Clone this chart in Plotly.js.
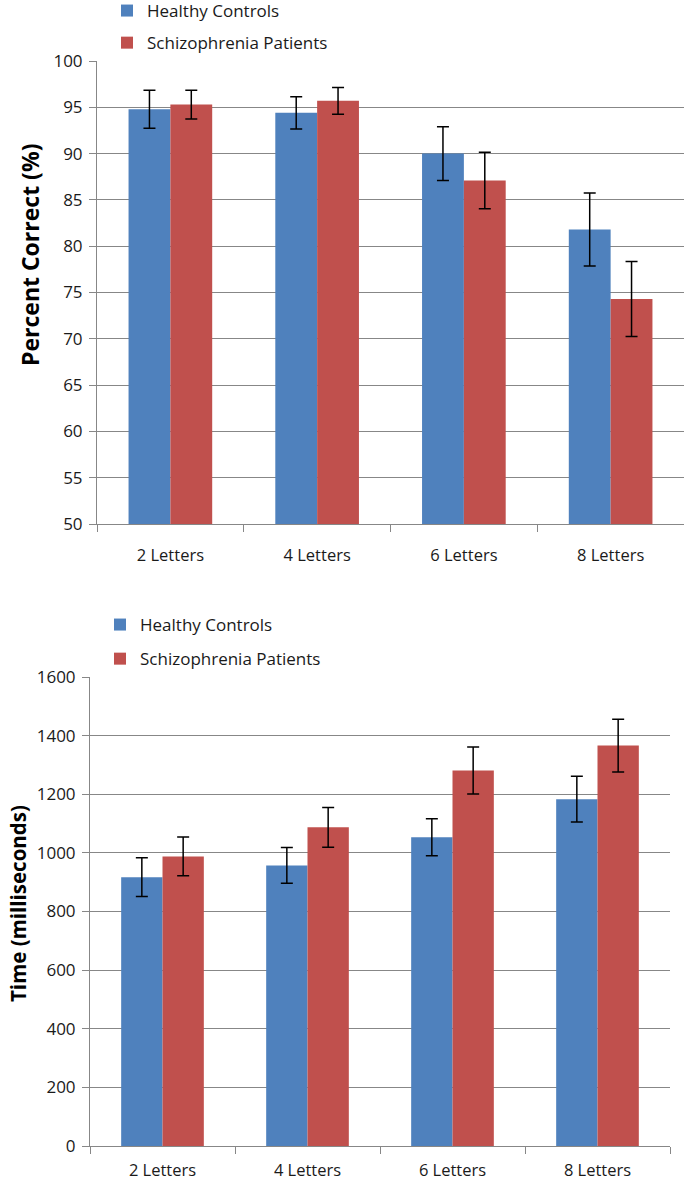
<!DOCTYPE html>
<html>
<head>
<meta charset="utf-8">
<script src="https://cdn.plot.ly/plotly-3.0.1.min.js"></script>
<style>html,body{margin:0;padding:0;background:#fff;}#chart{width:684px;height:1181px;}</style>
</head>
<body>
<div id="chart"></div>
<script>
const categories = ['2 Letters', '4 Letters', '6 Letters', '8 Letters'];
const seriesNames = ['Healthy Controls', 'Schizophrenia Patients'];
const accHC = [94.8, 94.4, 90.0, 81.8];
const accHCerr = [2.05, 1.75, 2.9, 3.95];
const accSZ = [95.3, 95.7, 87.1, 74.3];
const accSZerr = [1.55, 1.45, 3.05, 4.05];
const rtHC = [917, 957, 1053, 1183];
const rtHCerr = [66, 61, 63, 78];
const rtSZ = [988, 1087, 1281, 1366];
const rtSZerr = [66, 68, 80, 90];
const accTicks = [50, 55, 60, 65, 70, 75, 80, 85, 90, 95, 100];
const rtTicks = [0, 200, 400, 600, 800, 1000, 1200, 1400, 1600];
const axisTitles = ['Percent Correct (%)', 'Time (milliseconds)'];

const BLUE = '#4F81BD', RED = '#C0504D', GRID = '#878787';
const FONT = 'Open Sans, DejaVu Sans, sans-serif';

function errBar(arr) {
  return {type: 'data', array: arr, visible: true, color: '#000', thickness: 1.5, width: 6};
}
function barTrace(name, y, err, color, xa, ya, leg, grp) {
  return {type: 'bar', name: name, x: categories, y: y, error_y: errBar(err),
    marker: {color: color, line: {width: 0}}, xaxis: xa, yaxis: ya,
    legend: leg, legendgroup: grp, hoverinfo: 'skip'};
}

const data = [
  barTrace(seriesNames[0], accHC, accHCerr, BLUE, 'x', 'y', 'legend', 'a1'),
  barTrace(seriesNames[1], accSZ, accSZerr, RED, 'x', 'y', 'legend', 'a2'),
  barTrace(seriesNames[0], rtHC, rtHCerr, BLUE, 'x2', 'y2', 'legend2', 'b1'),
  barTrace(seriesNames[1], rtSZ, rtSZerr, RED, 'x2', 'y2', 'legend2', 'b2')
];

const H = 1181, W = 684;
const tickFont = {family: FONT, size: 16.5, color: '#1a1a1a'};
const yTickFont = {family: FONT, size: 17, color: '#1a1a1a'};

function xAxis(dom, anchor, standoff) {
  return {domain: dom, anchor: anchor, type: 'category', showgrid: false, showline: true,
    linecolor: GRID, linewidth: 1, ticks: 'outside', tickson: 'boundaries', ticklen: 7,
    tickcolor: GRID, tickwidth: 1, tickfont: tickFont, fixedrange: true,
    ticklabelstandoff: standoff, automargin: false};
}
function yAxis(dom, anchor, range, ticks) {
  return {domain: dom, anchor: anchor, range: range, tickvals: ticks, ticktext: ticks.map(String),
    showgrid: true, gridcolor: GRID, gridwidth: 1, showline: true, linecolor: GRID, linewidth: 1,
    ticks: 'outside', ticklen: 7, tickcolor: GRID, tickwidth: 1, zeroline: false,
    tickfont: yTickFont, ticklabelstandoff: 3, fixedrange: true, automargin: false};
}
function legendAt(xpx, ypx, gap) {
  return {x: xpx / W, y: 1 - ypx / H, xanchor: 'left', yanchor: 'top', orientation: 'v',
    font: {family: FONT, size: 17, color: '#1a1a1a'}, tracegroupgap: gap,
    bgcolor: 'rgba(0,0,0,0)', borderwidth: 0, traceorder: 'grouped'};
}

const layout = {
  width: W, height: H,
  margin: {l: 0, r: 0, t: 0, b: 0, pad: 0, autoexpand: false},
  paper_bgcolor: '#fff', plot_bgcolor: '#fff',
  barmode: 'group', bargap: 0.43, bargroupgap: 0,
  showlegend: true,
  xaxis: xAxis([97 / W, 684 / W], 'y', 16),
  yaxis: yAxis([1 - 524 / H, 1 - 61 / H], 'x', [50, 100], accTicks),
  xaxis2: xAxis([90 / W, 670 / W], 'y2', 9),
  yaxis2: yAxis([1 - 1146 / H, 1 - 677 / H], 'x2', [0, 1600], rtTicks),
  legend: legendAt(107, -7, 7),
  legend2: legendAt(100, 607, 9),
  annotations: [
    {text: axisTitles[0], xref: 'paper', yref: 'paper', x: 30 / W, y: 1 - 255 / H,
      xanchor: 'center', yanchor: 'middle', textangle: -90, showarrow: false,
      font: {family: FONT, size: 23, color: '#000', weight: 'bold'}},
    {text: axisTitles[1], xref: 'paper', yref: 'paper', x: 18 / W, y: 1 - 904 / H,
      xanchor: 'center', yanchor: 'middle', textangle: -90, showarrow: false,
      font: {family: FONT, size: 20.5, color: '#000', weight: 'bold'}}
  ]
};

Plotly.newPlot('chart', data, layout, {displayModeBar: false, staticPlot: true});
</script>
</body>
</html>
